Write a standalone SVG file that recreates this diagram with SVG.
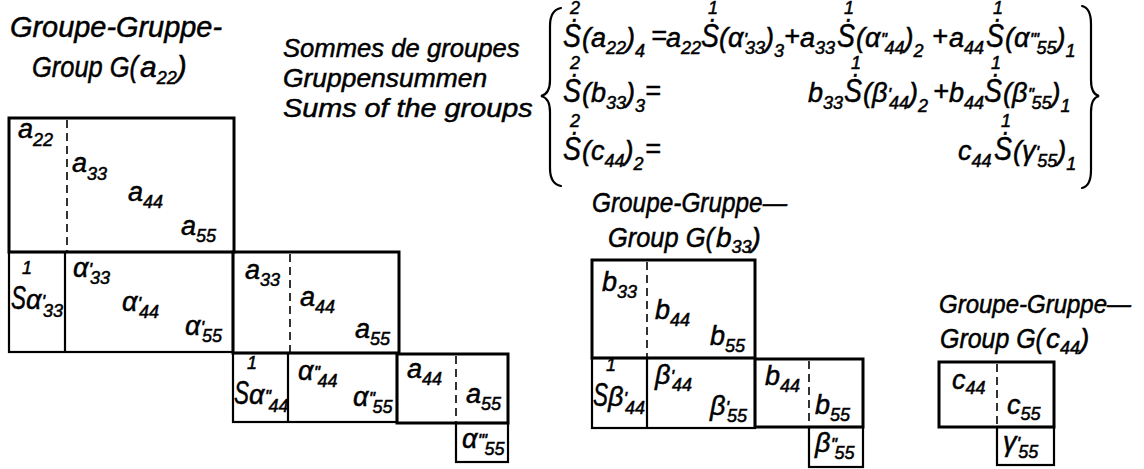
<svg xmlns="http://www.w3.org/2000/svg" width="1144" height="469" viewBox="0 0 1144 469">
<style>
text{font-family:"Liberation Sans","DejaVu Sans",sans-serif;font-style:italic;fill:#000;stroke:#000;stroke-width:0.5}
.T{font-size:30px}
.L{font-size:26.5px}
.t{font-size:28px}
.c{font-size:25px}
.m{font-size:27px}
.S{font-size:34px}
.s{font-size:18px}
.p{font-size:19px}
.q{font-size:19px;letter-spacing:-0.6px}
.box{fill:none;stroke:#000;stroke-width:3}
.ln{fill:none;stroke:#000;stroke-width:2.2}
.dash{fill:none;stroke:#000;stroke-width:1.6;stroke-dasharray:8 5}
.br{fill:none;stroke:#000;stroke-width:2.2;stroke-linecap:round}
</style>
<rect width="1144" height="469" fill="#fff"/>

<g id="legend">
<text class="L" transform="translate(283 57) scale(0.968 1)">Sommes de groupes</text>
<text class="L" transform="translate(283 87) scale(0.997 1)">Gruppensummen</text>
<text class="L" transform="translate(283 117) scale(1.087 1)">Sums of the groups</text>
</g>

<g id="formulas">
<path class="br" d="M561 8 Q550 10 550 26 L550 80 Q550 94 541 96 Q550 98 550 112 L550 168 Q550 184 561 186"/>
<path class="br" d="M1082 6 Q1091 8 1091 24 L1091 80 Q1091 94 1099 96 Q1091 98 1091 112 L1091 170 Q1091 186 1082 188"/>
<!-- row 1 -->
<text class="S" transform="translate(563 47) scale(0.79 1)">Ṡ</text><text class="s" x="570" y="14">2</text>
<text class="m" x="582" y="47">(a<tspan class="s" dy="7">22</tspan><tspan dy="-7">)</tspan><tspan class="s" dy="10">4</tspan></text>
<text class="m" x="651" y="45">=</text>
<text class="m" x="666" y="47">a<tspan class="s" dy="7">22</tspan></text>
<text class="S" transform="translate(701 47) scale(0.79 1)">Ṡ</text><text class="s" x="708" y="14">1</text>
<text class="m" x="719" y="47">(α<tspan class="p" dy="-1">'</tspan><tspan class="s" dx="-2" dy="8">33</tspan><tspan dy="-7">)</tspan><tspan class="s" dy="10">3</tspan></text>
<text class="m" x="784" y="45">+</text>
<text class="m" x="800" y="47">a<tspan class="s" dy="7">33</tspan></text>
<text class="S" transform="translate(837 47) scale(0.79 1)">Ṡ</text><text class="s" x="844" y="14">1</text>
<text class="m" x="856" y="47">(α<tspan class="q" dy="-1">''</tspan><tspan class="s" dx="-2" dy="8">44</tspan><tspan dy="-7">)</tspan><tspan class="s" dy="10">2</tspan></text>
<text class="m" x="932" y="45">+</text>
<text class="m" x="949" y="47">a<tspan class="s" dy="7">44</tspan></text>
<text class="S" transform="translate(986 47) scale(0.79 1)">Ṡ</text><text class="s" x="993" y="14">1</text>
<text class="m" x="1005" y="47">(α<tspan class="q" dy="-1">'''</tspan><tspan class="s" dx="-2" dy="8">55</tspan><tspan dy="-7">)</tspan><tspan class="s" dy="10">1</tspan></text>
<!-- row 2 -->
<text class="S" transform="translate(563 102) scale(0.79 1)">Ṡ</text><text class="s" x="570" y="69">2</text>
<text class="m" x="582" y="102">(b<tspan class="s" dy="7">33</tspan><tspan dy="-7">)</tspan><tspan class="s" dy="10">3</tspan></text>
<text class="m" x="645" y="100">=</text>
<text class="m" x="808" y="102">b<tspan class="s" dy="7">33</tspan></text>
<text class="S" transform="translate(844 102) scale(0.79 1)">Ṡ</text><text class="s" x="851" y="69">1</text>
<text class="m" x="863" y="102">(β<tspan class="p" dy="-1">'</tspan><tspan class="s" dx="-2" dy="8">44</tspan><tspan dy="-7">)</tspan><tspan class="s" dy="10">2</tspan></text>
<text class="m" x="933" y="100">+</text>
<text class="m" x="949" y="102">b<tspan class="s" dy="7">44</tspan></text>
<text class="S" transform="translate(984 102) scale(0.79 1)">Ṡ</text><text class="s" x="991" y="69">1</text>
<text class="m" x="1003" y="102">(β<tspan class="q" dy="-1">''</tspan><tspan class="s" dx="-2" dy="8">55</tspan><tspan dy="-7">)</tspan><tspan class="s" dy="10">1</tspan></text>
<!-- row 3 -->
<text class="S" transform="translate(563 160) scale(0.79 1)">Ṡ</text><text class="s" x="570" y="127">2</text>
<text class="m" x="582" y="160">(c<tspan class="s" dy="7">44</tspan><tspan dy="-7">)</tspan><tspan class="s" dy="10">2</tspan></text>
<text class="m" x="645" y="158">=</text>
<text class="m" x="958" y="160">c<tspan class="s" dy="7">44</tspan></text>
<text class="S" transform="translate(994 160) scale(0.79 1)">Ṡ</text><text class="s" x="1001" y="127">1</text>
<text class="m" x="1013" y="160">(γ<tspan class="p" dy="-1">'</tspan><tspan class="s" dx="-2" dy="8">55</tspan><tspan dy="-7">)</tspan><tspan class="s" dy="10">1</tspan></text>
</g>

<g id="group-a">
<text class="T" x="10" y="37" textLength="212" lengthAdjust="spacingAndGlyphs">Groupe-Gruppe-</text>
<text class="T" transform="translate(32 77) scale(0.848 1)">Group G(</text>
<text class="T" x="140" y="77">a<tspan class="s" dy="7">22</tspan><tspan dy="-7">)</tspan></text>
<rect class="box" x="9" y="118" width="225" height="134"/>
<line class="dash" x1="67" y1="120" x2="67" y2="251"/>
<rect class="ln" x="9" y="252" width="224" height="100"/>
<line class="ln" x1="65" y1="252" x2="65" y2="352"/>
<rect class="box" x="233" y="252" width="166" height="101"/>
<line class="dash" x1="290" y1="254" x2="290" y2="352"/>
<rect class="ln" x="233" y="353" width="164" height="69"/>
<line class="ln" x1="288" y1="353" x2="288" y2="422"/>
<rect class="box" x="397" y="354" width="111" height="69"/>
<line class="dash" x1="456" y1="356" x2="456" y2="422"/>
<rect class="ln" x="456" y="423" width="52" height="39"/>
<text class="m" x="18" y="138">a<tspan class="s" dy="8">22</tspan></text>
<text class="m" x="72" y="172">a<tspan class="s" dy="8">33</tspan></text>
<text class="m" x="128" y="201">a<tspan class="s" dy="7">44</tspan></text>
<text class="m" x="181" y="235">a<tspan class="s" dy="7">55</tspan></text>
<text class="s" x="22" y="274">1</text>
<text class="S" transform="translate(11 309) scale(0.66 1)">S</text>
<text class="m" x="26" y="309">α<tspan class="p" dy="-1">'</tspan><tspan class="s" dx="-2" dy="9">33</tspan></text>
<text class="m" x="73" y="277">α<tspan class="p" dy="-1">'</tspan><tspan class="s" dx="-2" dy="8">33</tspan></text>
<text class="m" x="122" y="311">α<tspan class="p" dy="-1">'</tspan><tspan class="s" dx="-2" dy="8">44</tspan></text>
<text class="m" x="185" y="335">α<tspan class="p" dy="-1">'</tspan><tspan class="s" dx="-2" dy="8">55</tspan></text>
<text class="m" x="245" y="279">a<tspan class="s" dy="7">33</tspan></text>
<text class="m" x="300" y="306">a<tspan class="s" dy="7">44</tspan></text>
<text class="m" x="355" y="338">a<tspan class="s" dy="7">55</tspan></text>
<text class="s" x="247" y="369">1</text>
<text class="S" transform="translate(234 404) scale(0.66 1)">S</text>
<text class="m" x="249" y="404">α<tspan class="q" dy="-1">''</tspan><tspan class="s" dx="-2" dy="9">44</tspan></text>
<text class="m" x="298" y="380">α<tspan class="q" dy="-1">''</tspan><tspan class="s" dx="-2" dy="8">44</tspan></text>
<text class="m" x="353" y="406">α<tspan class="q" dy="-1">''</tspan><tspan class="s" dx="-2" dy="8">55</tspan></text>
<text class="m" x="407" y="378">a<tspan class="s" dy="7">44</tspan></text>
<text class="m" x="466" y="403">a<tspan class="s" dy="7">55</tspan></text>
<text class="m" x="462" y="448">α<tspan class="q" dy="-1">'''</tspan><tspan class="s" dx="-2" dy="8">55</tspan></text>
</g>

<g id="group-b">
<text class="t" x="592" y="212" textLength="195" lengthAdjust="spacingAndGlyphs">Groupe-Gruppe—</text>
<text class="t" transform="translate(608 247) scale(0.908 1)">Group G(</text>
<text class="t" x="716" y="247">b<tspan class="s" dy="6">33</tspan><tspan dy="-6">)</tspan></text>
<rect class="box" x="592" y="260" width="163" height="98"/>
<line class="dash" x1="647" y1="262" x2="647" y2="357"/>
<rect class="ln" x="592" y="358" width="163" height="70"/>
<line class="ln" x1="647" y1="358" x2="647" y2="428"/>
<rect class="box" x="755" y="359" width="108" height="68"/>
<line class="dash" x1="809" y1="361" x2="809" y2="426"/>
<rect class="ln" x="809" y="427" width="54" height="40"/>
<text class="m" x="602" y="291">b<tspan class="s" dy="7">33</tspan></text>
<text class="m" x="655" y="319">b<tspan class="s" dy="7">44</tspan></text>
<text class="m" x="710" y="345">b<tspan class="s" dy="7">55</tspan></text>
<text class="s" x="606" y="371">1</text>
<text class="S" transform="translate(593 406) scale(0.66 1)">S</text>
<text class="m" x="608" y="406">β<tspan class="p" dy="-1">'</tspan><tspan class="s" dx="-2" dy="9">44</tspan></text>
<text class="m" x="655" y="384">β<tspan class="p" dy="-1">'</tspan><tspan class="s" dx="-2" dy="8">44</tspan></text>
<text class="m" x="710" y="415">β<tspan class="p" dy="-1">'</tspan><tspan class="s" dx="-2" dy="8">55</tspan></text>
<text class="m" x="765" y="385">b<tspan class="s" dy="7">44</tspan></text>
<text class="m" x="815" y="414">b<tspan class="s" dy="7">55</tspan></text>
<text class="m" x="815" y="452">β<tspan class="q" dy="-1">''</tspan><tspan class="s" dx="-2" dy="8">55</tspan></text>
</g>

<g id="group-c">
<text class="c" x="939" y="313" textLength="192" lengthAdjust="spacingAndGlyphs">Groupe-Gruppe—</text>
<text class="t" transform="translate(940 348) scale(0.891 1)">Group G(</text>
<text class="t" x="1046" y="348">c<tspan class="s" dy="6">44</tspan><tspan dy="-6">)</tspan></text>
<rect class="box" x="939" y="362" width="115" height="65"/>
<line class="dash" x1="997" y1="364" x2="997" y2="426"/>
<rect class="ln" x="997" y="427" width="57" height="38"/>
<text class="m" x="952" y="389">c<tspan class="s" dy="5">44</tspan></text>
<text class="m" x="1007" y="414">c<tspan class="s" dy="6">55</tspan></text>
<text class="m" x="1003" y="451">γ<tspan class="p" dy="-1">'</tspan><tspan class="s" dx="-2" dy="8">55</tspan></text>
</g>
</svg>
